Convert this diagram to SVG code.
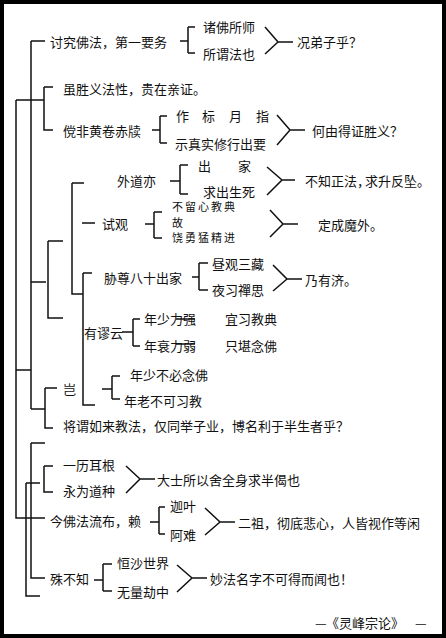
<svg xmlns="http://www.w3.org/2000/svg" width="446" height="638" viewBox="0 0 446 638">
<style>
.t{font-family:"Noto Sans CJK SC","Noto Sans CJK JP",sans-serif;font-size:13px;fill:#111;dominant-baseline:central}
.s{font-size:11px;letter-spacing:2px}
.l{stroke:#111;stroke-width:1.5;fill:none}
</style>
<rect x="2" y="2" width="442" height="634" fill="#fff" stroke="#000" stroke-width="4"/>
<g id="connectors" class="l">
<path d="M31,41H45M31,41V409M44,87H53M44,87V130H53M16,100H44M16,100V518H45M16,370H31"/>
<path d="M31,282H46M48,241H63M48,241V318H63M72,183H84M72,183V294H83M82,223H95M83,273H92M83,273V405H95"/>
<path d="M31,409H45M45,388H57M45,388V428H53M102,389H112M112,376V399M112,376H120M112,399H120"/>
<path d="M122,332H133M133,319V346M133,319H140M133,346H140"/>
<path d="M31,443H45M31,443V578H45M26,483H40M26,483V596H40M44,466H53M44,466V492H53"/>
<path d="M180,41H188M188,27V53M188,27H195M188,53H195M265,27L278,42L265,54M278,42H293"/>
<path d="M152,130H160M160,116V143M160,116H167M160,143H167M277,115L290,130L277,145M290,130H305"/>
<path d="M170,181H180M180,165V194M180,165H188M180,194H188M267,167L282,180L267,195M282,180H295"/>
<path d="M145,224H154M154,212V238M154,212H162M154,238H162M270,210L283,224L270,237M283,224H298"/>
<path d="M192,277H199M199,263V290M199,263H208M199,290H208M273,265L287,279L273,291M287,279H302"/>
<path d="M176,319H195M176,344H195"/>
<path d="M126,466L140,479L126,493M140,479H155"/>
<path d="M150,522H159M159,507V534M159,507H165M159,534H165M205,508L220,522L205,535M220,522H235"/>
<path d="M94,580H103M103,564V591M103,564H112M103,591H112M177,565L192,578L177,592M192,578H207"/>
</g>
<g id="n1"><text class="t" x="50" y="41">讨究佛法，第一要务</text></g>
<g id="n1a"><text class="t" x="203" y="26">诸佛所师</text></g>
<g id="n1b"><text class="t" x="203" y="53">所谓法也</text></g>
<g id="n1c"><text class="t" x="297" y="41">况弟子乎？</text></g>
<g id="n2"><text class="t" x="63" y="88">虽胜义法性，贵在亲证。</text></g>
<g id="n3"><text class="t" x="63" y="130">傥非黄卷赤牍</text></g>
<g id="n3a"><text class="t" x="176 202 229 256" y="115">作标月指</text></g>
<g id="n3b"><text class="t" x="175" y="143">示真实修行出要</text></g>
<g id="n3c"><text class="t" x="312" y="130">何由得证胜义？</text></g>
<g id="n4"><text class="t" x="117" y="180">外道亦</text></g>
<g id="n4a"><text class="t" x="198 238" y="165">出家</text></g>
<g id="n4b"><text class="t" x="203" y="191">求出生死</text></g>
<g id="n4c"><text class="t" x="305" y="180">不知正法，<tspan x="365">求升反坠。</tspan></text></g>
<g id="n5"><text class="t" x="102" y="223">试观</text></g>
<g id="n5a"><text class="t s" x="172" y="206">不留心教典</text><text class="t s" x="172" y="221.5">故</text><text class="t s" x="172" y="237">饶勇猛精进</text></g>
<g id="n5c"><text class="t" x="318" y="224">定成魔外。</text></g>
<g id="n6"><text class="t" x="104" y="277">胁尊八十出家</text></g>
<g id="n6a"><text class="t" x="212" y="263">昼观三藏</text></g>
<g id="n6b"><text class="t" x="212" y="289">夜习禪思</text></g>
<g id="n6c"><text class="t" x="305" y="279">乃有济。</text></g>
<g id="n7"><text class="t" x="84" y="332">有谬云</text></g>
<g id="n7a"><text class="t" x="144" y="318">年少力强</text><text class="t" x="225" y="318">宜习教典</text></g>
<g id="n7b"><text class="t" x="144" y="345">年衰力弱</text><text class="t" x="225" y="345">只堪念佛</text></g>
<g id="n8"><text class="t" x="63" y="388">岂</text></g>
<g id="n8a"><text class="t" x="130" y="374">年少不必念佛</text></g>
<g id="n8b"><text class="t" x="124" y="400">年老不可习教</text></g>
<g id="n9"><text class="t" x="63" y="425">将谓如来教法，仅同举子业，博名利于半生者乎？</text></g>
<g id="n10a"><text class="t" x="63" y="464">一历耳根</text></g>
<g id="n10b"><text class="t" x="63" y="490">永为道种</text></g>
<g id="n10c"><text class="t" x="157" y="479">大士所以舍全身求半偈也</text></g>
<g id="n11"><text class="t" x="50" y="520">今佛法流布，赖</text></g>
<g id="n11a"><text class="t" x="170" y="505">迦叶</text></g>
<g id="n11b"><text class="t" x="170" y="534">阿难</text></g>
<g id="n11c"><text class="t" x="238" y="522">二祖，彻底悲心，人皆视作等闲</text></g>
<g id="n12"><text class="t" x="50" y="578">殊不知</text></g>
<g id="n12a"><text class="t" x="117" y="562">恒沙世界</text></g>
<g id="n12b"><text class="t" x="117" y="591">无量劫中</text></g>
<g id="n12c"><text class="t" x="210" y="578">妙法名字不可得而闻也！</text></g>
<g id="source"><text class="t" x="315" y="622">—<tspan x="326">《灵峰宗论》</tspan><tspan x="415">—</tspan></text></g>
</svg>
